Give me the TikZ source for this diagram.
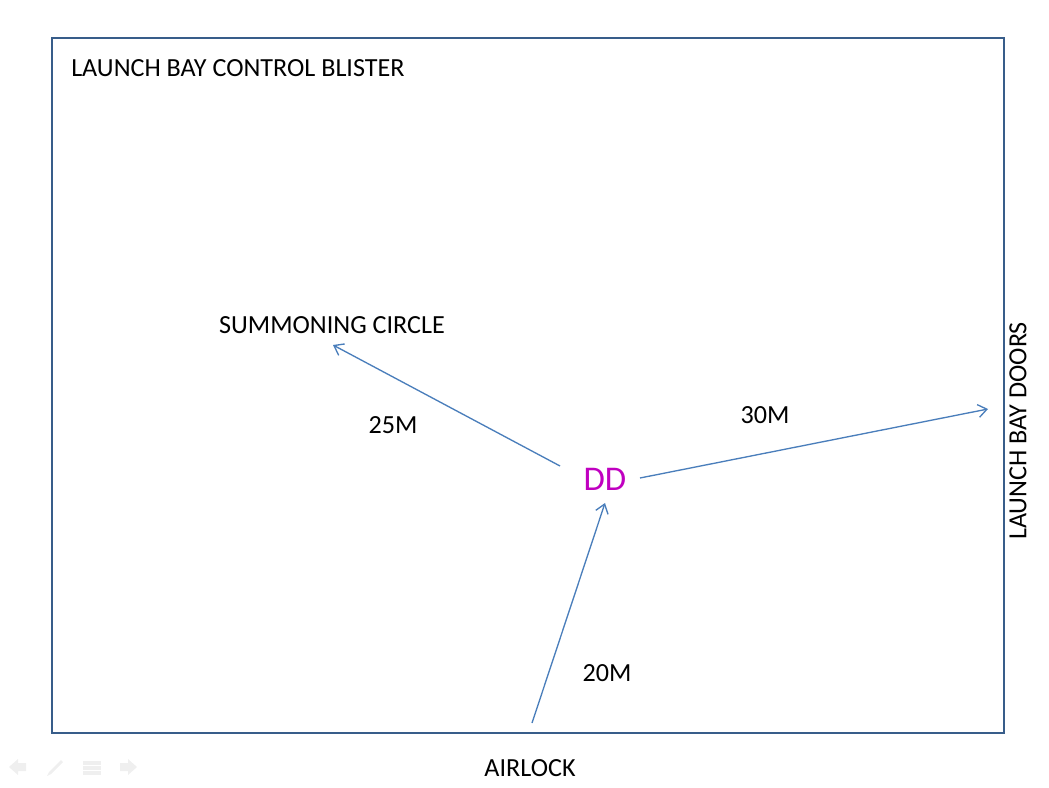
\documentclass[tikz,border=0pt]{standalone}
\usepackage{fontspec}
\setmainfont{Carlito}
\usepackage{tikz}
\usetikzlibrary{arrows.meta,positioning}
\definecolor{frameblue}{HTML}{385D8A}
\definecolor{linkblue}{HTML}{4A7EBB}
\definecolor{ddpink}{HTML}{C000C0}
\definecolor{navgrey}{HTML}{EFEFEF}
\tikzset{
  label/.style={font=\fontsize{19.6}{23}\selectfont, text=black, inner sep=0pt},
  distlabel/.style={label},
  linkarrow/.style={-{Straight Barb[length=2.3mm, width=3.4mm]}, draw=linkblue, line width=1pt},
  navicon/.style={fill=navgrey, draw=none}
}

\begin{document}
\begin{tikzpicture}[x=0.75pt,y=-0.75pt]
  \useasboundingbox (0,0) rectangle (1049,788);

  % Blister outline
  \draw[frameblue, line width=2.1pt] (52,38) rectangle (1004,733);
  \node[label, anchor=base west] (blister) at (71,77) {LAUNCH BAY CONTROL BLISTER};

  % Places round the blister
  \node[label] (circle) at (332,325) {SUMMONING CIRCLE};
  \node[label, rotate=90] (doors) at (1018,431) {LAUNCH BAY DOORS};
  \node[label] (airlock) at (530,768) {AIRLOCK};
  \node[font=\fontsize{26}{30}\selectfont, text=ddpink, inner sep=0pt] (dd) at (605,479) {DD};

  % Arrow ends
  \coordinate (ddleft) at (560,466);
  \coordinate (ddright) at (640,478);
  \coordinate (ddbelow) at (605,503);
  \coordinate (circletip) at (333,345);
  \coordinate (doorstip) at (988,409);
  \coordinate (airlocktail) at (532,723);

  \draw[linkarrow] (ddleft) -- (circletip);
  \draw[linkarrow] (ddright) -- (doorstip);
  \draw[linkarrow] (airlocktail) -- (ddbelow);

  % Distances
  \node[distlabel] (d25) at (393,425) {25M};
  \node[distlabel] (d30) at (765,415) {30M};
  \node[distlabel] (d20) at (607,673) {20M};

  % Slide navigation icons
  \fill[navicon] (9,767) -- (18,759) -- (18,763) -- (26,763) -- (26,771) -- (18,771) -- (18,775) -- cycle;
  \fill[navicon] (47,776) -- (49,772) -- (61,760) -- (63,762) -- (51,774) -- cycle;
  \foreach \yy in {761,766,771}
    \fill[navicon] (83,\yy) rectangle (101,\yy+3.5);
  \fill[navicon] (137,767) -- (128,759) -- (128,763) -- (120,763) -- (120,771) -- (128,771) -- (128,775) -- cycle;
\end{tikzpicture}
\end{document}
